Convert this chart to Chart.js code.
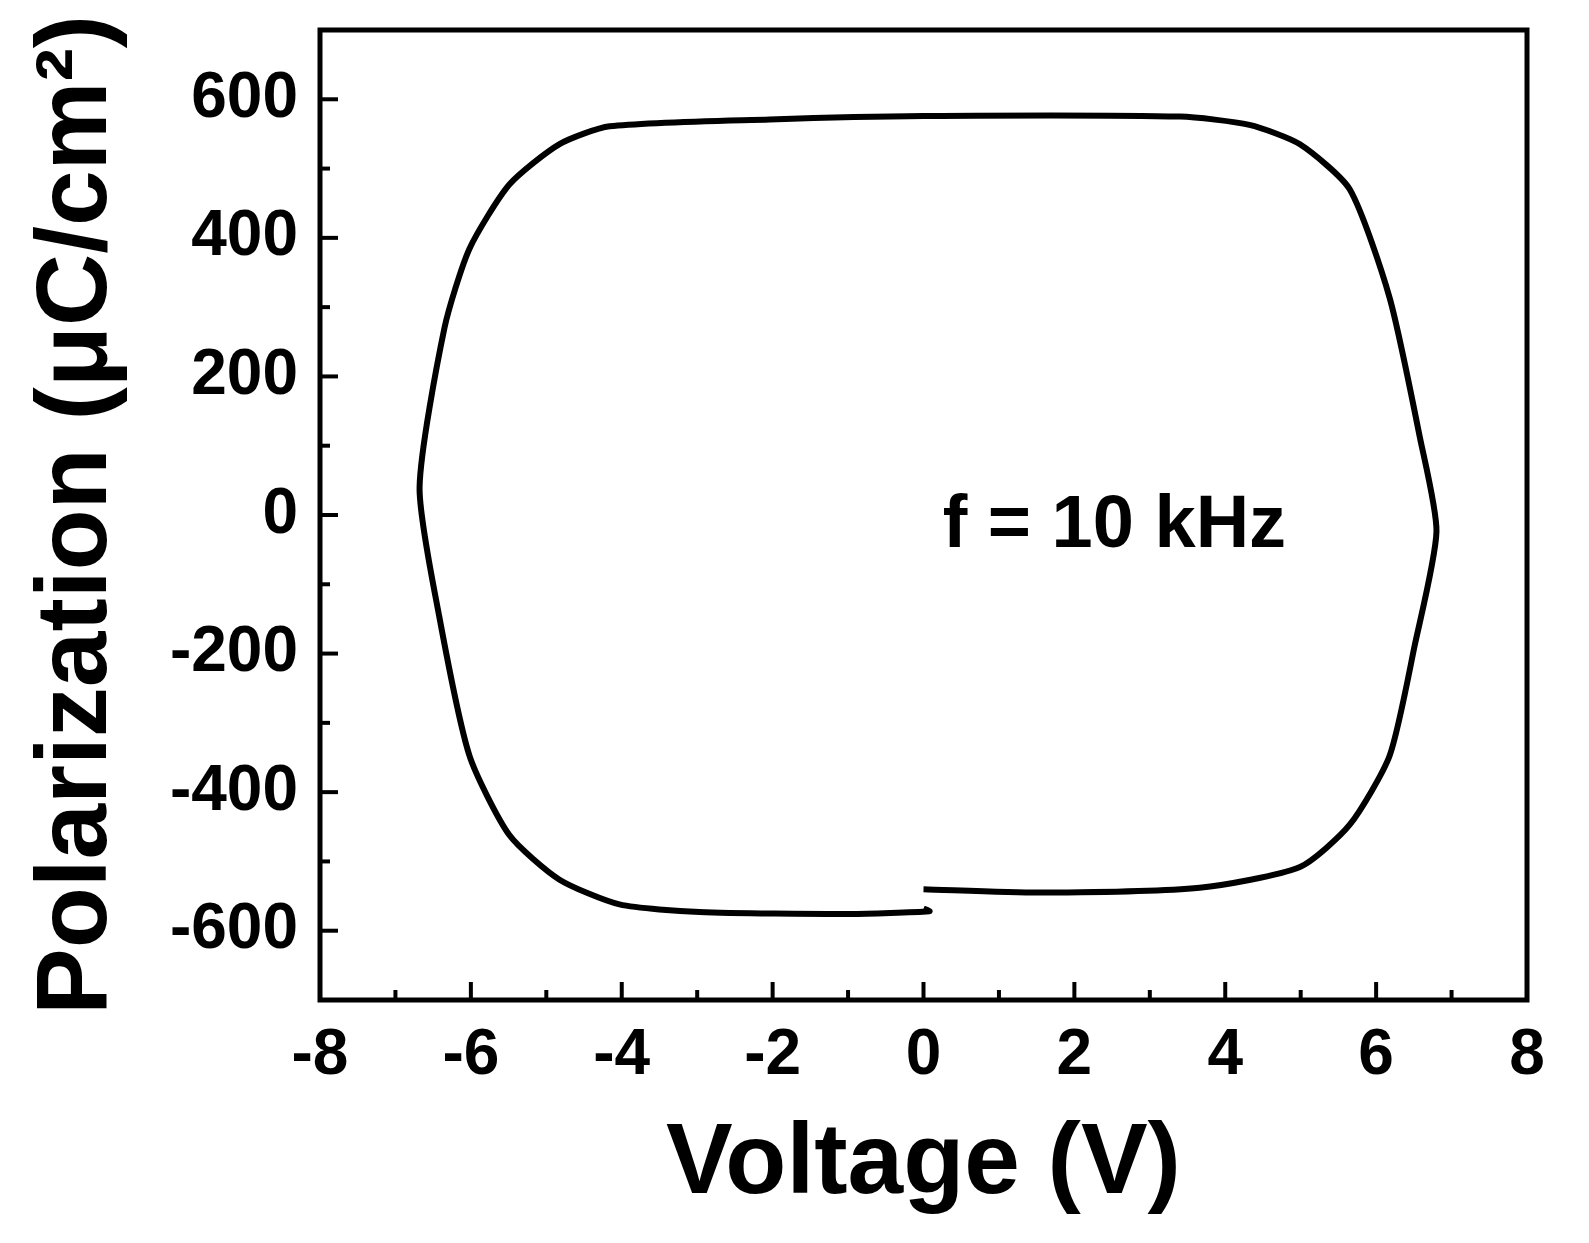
<!DOCTYPE html>
<html>
<head>
<meta charset="utf-8">
<script src="https://cdn.jsdelivr.net/npm/chart.js@4"></script>
<style>
  html, body { margin: 0; padding: 0; background: #fff; overflow: hidden; }
  #wrap { width: 1589px; height: 1243px; }
</style>
</head>
<body>
<div id="wrap"><canvas id="pe"></canvas></div>
<script>
// P-E loop (V, uC/cm2)
const voltage = [0, 1.54, 3.66, 4.99, 5.65, 6.18, 6.51, 6.80, 6.58, 6.18, 5.65, 4.99, 4.32, 3.40, 0, -2.04, -4.16, -4.83, -5.49, -6.02, -6.35, -6.68, -6.42, -6.02, -5.49, -4.83, -4.03, -2.97, -0.98, 0.08, 0.0];
const polarization = [-540, -545, -538, -508, -447, -347, -189, -24, 112, 313, 470, 535, 563, 575, 576, 571, 561, 535, 477, 384, 270, 40, -146, -347, -462, -526, -562, -573, -576, -572, -568];
const xTicks = [-8, -6, -4, -2, 0, 2, 4, 6, 8];
const yTicks = [-600, -400, -200, 0, 200, 400, 600];
const note = "f = 10 kHz";

const font = "'Liberation Sans', Arial, sans-serif";
const points = voltage.map((v, i) => ({ x: v, y: polarization[i] }));

const frame = {
    id: "frame",
    afterDraw(chart) {
        const { ctx, chartArea: a, scales: { x, y } } = chart;
        ctx.save();
        ctx.strokeStyle = "#000";
        ctx.lineWidth = 5;
        ctx.strokeRect(a.left, a.top, a.right - a.left, a.bottom - a.top);
        ctx.lineWidth = 4;
        for (let v = -8; v <= 8; v += 1) {
            const px = x.getPixelForValue(v);
            const len = v % 2 === 0 ? 18 : 10;
            ctx.beginPath();
            ctx.moveTo(px, a.bottom);
            ctx.lineTo(px, a.bottom - len);
            ctx.stroke();
        }
        for (let v = -700; v <= 700; v += 100) {
            const py = y.getPixelForValue(v);
            const len = v % 200 === 0 ? 18 : 10;
            ctx.beginPath();
            ctx.moveTo(a.left, py);
            ctx.lineTo(a.left + len, py);
            ctx.stroke();
        }
        ctx.fillStyle = "#000";
        ctx.font = "bold 74px " + font;
        ctx.textAlign = "center";
        ctx.textBaseline = "middle";
        ctx.fillText(note, x.getPixelForValue(2.53), y.getPixelForValue(-17));
        ctx.restore();
    }
};

new Chart(document.getElementById("pe"), {
    type: "scatter",
    data: {
        datasets: [{
            data: points,
            showLine: true,
            borderColor: "#000",
            borderWidth: 6,
            pointRadius: 0,
            tension: 0.22
        }]
    },
    options: {
        responsive: true,
        maintainAspectRatio: false,
        animation: false,
        layout: { padding: { top: 30, right: 62, left: 0, bottom: 0 } },
        plugins: { legend: { display: false }, tooltip: { enabled: false } },
        scales: {
            x: {
                min: -8, max: 8,
                afterBuildTicks: s => { s.ticks = xTicks.map(v => ({ value: v })); },
                afterFit: s => { s.height = 243; s.paddingLeft = 0; s.paddingRight = 0; },
                grid: { display: false, drawTicks: false },
                border: { display: false },
                ticks: { color: "#000", padding: 18, font: { family: font, size: 64, weight: "bold" } },
                title: { display: true, text: "Voltage (V)", color: "#000", padding: { top: 0, bottom: 18 },
                         font: { family: font, size: 100, weight: "bold" } }
            },
            y: {
                min: -700, max: 700,
                afterBuildTicks: s => { s.ticks = yTicks.map(v => ({ value: v })); },
                afterFit: s => { s.width = 320; s.paddingTop = 0; s.paddingBottom = 0; },
                grid: { display: false, drawTicks: false },
                border: { display: false },
                ticks: { color: "#000", padding: 22, font: { family: font, size: 64, weight: "bold" } },
                title: { display: true, text: "Polarization (μC/cm²)", color: "#000", padding: { top: 18, bottom: 0 },
                         font: { family: font, size: 100, weight: "bold" } }
            }
        }
    },
    plugins: [frame]
});
</script>
</body>
</html>
